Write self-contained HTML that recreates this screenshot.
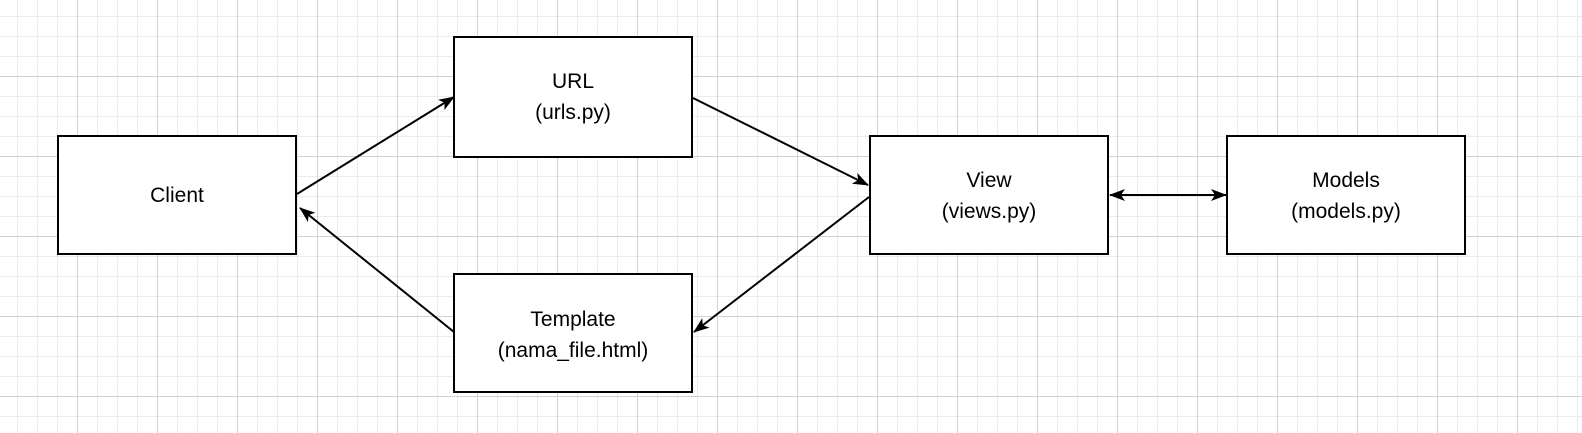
<!DOCTYPE html>
<html><head><meta charset="utf-8"><style>
html,body{margin:0;padding:0;background:#fff}
svg{display:block}
text{font-family:"Liberation Sans",sans-serif;font-size:21px;fill:#000}
</style></head><body>
<svg width="1582" height="433" xmlns="http://www.w3.org/2000/svg">
<defs>
<marker id="b" viewBox="0 0 16 12" refX="15" refY="6" markerWidth="16" markerHeight="12" markerUnits="userSpaceOnUse" orient="auto-start-reverse">
<path d="M0 0L16 6L0 12L4 6Z" fill="#000"/>
</marker>
</defs>
<g stroke="#ececec" stroke-width="1" id="minor"></g>
<g stroke="#d2d2d2" stroke-width="1" id="major"></g>
<script>
(function(){
var ns="http://www.w3.org/2000/svg",mi=document.getElementById("minor"),ma=document.getElementById("major");
function L(g,x1,y1,x2,y2){var l=document.createElementNS(ns,"line");l.setAttribute("x1",x1);l.setAttribute("y1",y1);l.setAttribute("x2",x2);l.setAttribute("y2",y2);g.appendChild(l);}
for(var x=-3;x<1582;x+=20){var g=((x-77)%80===0)?ma:mi;L(g,x+0.5,0,x+0.5,433);}
for(var y=-4;y<433;y+=20){var g=((y-76)%80===0)?ma:mi;L(g,0,y+0.5,1582,y+0.5);}
})();
</script>
<g fill="#fff" stroke="#000" stroke-width="2">
<rect x="58" y="136" width="238" height="118"/>
<rect x="454" y="37" width="238" height="120"/>
<rect x="870" y="136" width="238" height="118"/>
<rect x="1227" y="136" width="238" height="118"/>
<rect x="454" y="274" width="238" height="118"/>
</g>
<g stroke="#000" stroke-width="2" fill="none">
<line x1="297" y1="194" x2="454" y2="97" marker-end="url(#b)"/>
<line x1="693" y1="98" x2="868" y2="185" marker-end="url(#b)"/>
<line x1="869" y1="197" x2="694" y2="332" marker-end="url(#b)"/>
<line x1="454" y1="332" x2="300" y2="208" marker-end="url(#b)"/>
<line x1="1110" y1="195" x2="1226" y2="195" marker-start="url(#b)" marker-end="url(#b)"/>
</g>
<g text-anchor="middle">
<text x="177" y="202">Client</text>
<text x="573" y="88">URL</text>
<text x="573" y="119">(urls.py)</text>
<text x="989" y="187">View</text>
<text x="989" y="218">(views.py)</text>
<text x="1346" y="187">Models</text>
<text x="1346" y="218">(models.py)</text>
<text x="573" y="326">Template</text>
<text x="573" y="357">(nama_file.html)</text>
</g>
</svg>
</body></html>
